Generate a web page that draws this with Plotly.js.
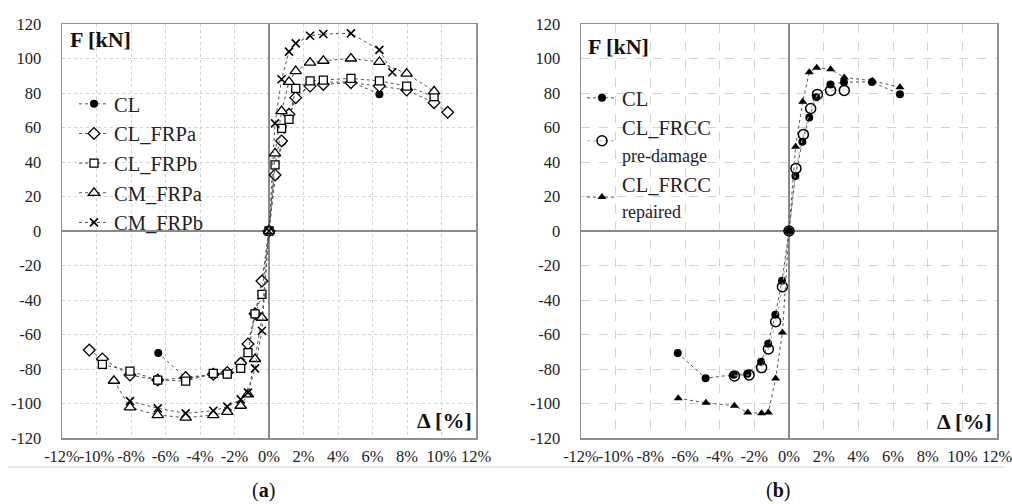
<!DOCTYPE html>
<html>
<head>
<meta charset="utf-8">
<script src="https://cdn.plot.ly/plotly-3.0.1.min.js"></script>
<style>html,body{margin:0;padding:0;background:#fff;}#chart{width:1012px;height:504px;}</style>
</head>
<body>
<div id="chart"></div>
<script>
// ---------- DATA ----------
// Chart (a)
const clX      = [-6.42, -4.81, -3.19, -2.4, -1.61, -1.2, -0.79, -0.4, 0, 0.37, 0.77, 1.17, 1.57, 2.39, 3.17, 4.78, 6.4];
const clF      = [-70.7, -85.4, -83.3, -82.8, -75.8, -65.3, -48.5, -28.8, 0, 31.9, 51.8, 65.8, 77.6, 85, 86.3, 86.4, 79.3];

const frpaX    = [-10.42, -9.66, -8.06, -6.45, -4.83, -3.23, -2.42, -1.64, -1.22, -0.81, -0.41, 0, 0.35, 0.73, 1.16, 1.55, 2.38, 3.15, 4.75, 6.4, 7.98, 9.57, 10.36];
const frpaF    = [-69, -74.2, -83.5, -86.4, -85, -83, -82, -76.7, -65.5, -48, -29, 0, 32.5, 52.2, 67.6, 77.3, 84, 85, 86, 84, 81.7, 74.4, 68.8];

const frpbX    = [-9.66, -8.06, -6.45, -4.83, -3.23, -2.42, -1.64, -1.22, -0.81, -0.41, 0, 0.35, 0.73, 1.16, 1.55, 2.38, 3.15, 4.75, 6.4, 7.98, 9.57];
const frpbF    = [-77.3, -81.2, -86.4, -87, -82.5, -83, -79.6, -70.5, -48, -36.7, 0, 38.3, 59.5, 64.7, 82.7, 87, 87.5, 88.5, 87, 84, 77.9];

const cmaX     = [-8.99, -8.06, -6.45, -4.83, -3.23, -2.42, -1.64, -1.22, -0.81, -0.41, 0, 0.35, 0.73, 1.16, 1.55, 2.38, 3.15, 4.75, 6.4, 7.98, 9.57];
const cmaF     = [-86.8, -102.3, -106.7, -108.2, -106.7, -104.8, -101.3, -94.7, -74.2, -50.3, 0, 45, 69.5, 86.5, 92.7, 97.6, 98.7, 100, 98, 91.2, 81];

const cmbX     = [-8.06, -6.45, -4.83, -3.23, -2.42, -1.64, -1.22, -0.81, -0.41, 0, 0.35, 0.73, 1.16, 1.55, 2.38, 3.15, 4.75, 6.4, 7.15];
const cmbF     = [-98.6, -102.8, -105.7, -104.2, -101.8, -97.6, -93.7, -79.6, -57.8, 0, 62.4, 88, 104, 108.8, 113.2, 114.2, 114.6, 105, 92];

// Chart (b)
const preX     = [-3.15, -2.3, -1.58, -1.19, -0.77, -0.38, 0, 0.4, 0.83, 1.25, 1.64, 2.4, 3.19];
const preF     = [-84, -83.5, -79.2, -68.4, -52.6, -32.3, 0, 36.3, 56, 71, 79.2, 81.5, 81.5];

const repX     = [-6.39, -4.79, -3.15, -2.38, -1.58, -1.19, -0.77, -0.38, 0, 0.38, 0.79, 1.17, 1.6, 2.4, 3.19, 4.81, 6.4];
const repF     = [-97, -99.6, -101.3, -105.2, -105.7, -105.2, -85.5, -58.8, 0, 48.9, 74.9, 92, 94.7, 93.7, 89, 87.1, 83.3];

// Tick labels
const xTickVals = [-12, -10, -8, -6, -4, -2, 0, 2, 4, 6, 8, 10, 12];
const xTickText = ['-12%', '-10%', '-8%', '-6%', '-4%', '-2%', '0%', '2%', '4%', '6%', '8%', '10%', '12%'];
const yTickVals = [-120, -100, -80, -60, -40, -20, 0, 20, 40, 60, 80, 100, 120];
const yTickText = ['-120', '-100', '-80', '-60', '-40', '-20', '0', '20', '40', '60', '80', '100', '120'];

// ---------- STYLE ----------
const FONT = 'Liberation Serif, Times New Roman, serif';
const lineStyle = {color: '#555', width: 1, dash: 'dot'};
const W = 1012, H = 504;
const px = v => v / W;
const py = v => 1 - v / H;

function trace(x, y, name, marker, axis, legend, line) {
  return {
    x: x, y: y, name: name, type: 'scatter', mode: 'lines+markers',
    line: line || lineStyle, marker: marker,
    xaxis: axis === 2 ? 'x2' : 'x', yaxis: axis === 2 ? 'y2' : 'y',
    legend: legend, cliponaxis: false
  };
}

const data = [
  trace(clX, clF, 'CL', {symbol: 'circle', size: 8, color: '#000'}, 1, 'legend'),
  trace(frpaX, frpaF, 'CL_FRPa', {symbol: 'diamond', size: 9, color: '#fff', line: {color: '#000', width: 1.3}}, 1, 'legend'),
  trace(frpbX, frpbF, 'CL_FRPb', {symbol: 'square', size: 8, color: '#fff', line: {color: '#000', width: 1.3}}, 1, 'legend'),
  trace(cmaX, cmaF, 'CM_FRPa', {symbol: 'triangle-up', size: 10, color: '#fff', line: {color: '#000', width: 1.3}}, 1, 'legend'),
  trace(cmbX, cmbF, 'CM_FRPb', {symbol: 'x-thin-open', size: 8, color: '#000', line: {color: '#000', width: 1.6}}, 1, 'legend'),
  trace(clX, clF, 'CL', {symbol: 'circle', size: 8, color: '#000'}, 2, 'legend2'),
  trace(preX, preF, 'CL_FRCC<br><span style="font-size:18px">pre-damage</span>', {symbol: 'circle-open', size: 10, color: '#000', line: {color: '#000', width: 1.5}}, 2, 'legend2', {color: '#aaa', width: 1, dash: 'dot'}),
  trace(repX, repF, 'CL_FRCC<br><span style="font-size:18px">repaired</span>', {symbol: 'triangle-up', size: 8, color: '#000'}, 2, 'legend2')
];

function xax(domain, anchor, griddash) {
  return {
    domain: domain, anchor: anchor, range: [-12, 12], tickmode: 'array',
    tickvals: xTickVals, ticktext: xTickText, tickangle: 0, ticklabeloverflow: 'allow',
    showgrid: true, gridcolor: '#d4d4d4', griddash: griddash,
    zeroline: true, zerolinecolor: '#8a8a8a', zerolinewidth: 1.5,
    showline: true, linecolor: '#8f8f8f', linewidth: 1.5, mirror: true,
    ticks: '', ticklabelstandoff: 3, tickfont: {family: FONT, size: 16.5, color: '#222'},
    fixedrange: true
  };
}
function yax(anchor, griddash) {
  return {
    domain: [1 - 438 / H, 1 - 24 / H], anchor: anchor, range: [-120, 120], tickmode: 'array',
    tickvals: yTickVals, ticktext: yTickText, ticklabeloverflow: 'allow',
    showgrid: true, gridcolor: '#d4d4d4', griddash: griddash,
    zeroline: true, zerolinecolor: '#8a8a8a', zerolinewidth: 1.5,
    showline: true, linecolor: '#8f8f8f', linewidth: 1.5, mirror: true,
    ticks: '', ticklabelstandoff: 16, tickfont: {family: FONT, size: 16.5, color: '#222'},
    fixedrange: true
  };
}

const ann = (text, x, y, xanchor, size) => ({
  text: text, xref: 'paper', yref: 'paper', x: px(x), y: py(y), xanchor: xanchor, yanchor: 'middle',
  showarrow: false, font: {family: FONT, size: size, color: '#111'}
});

const legendStyle = (x, y) => ({
  x: px(x), y: py(y), xanchor: 'left', yanchor: 'top', bgcolor: 'rgba(0,0,0,0)',
  font: {family: FONT, size: 20.5, color: '#222'}, itemwidth: 30, tracegroupgap: 0, valign: 'middle'
});

const layout = {
  width: W, height: H, margin: {l: 0, r: 0, t: 0, b: 0},
  paper_bgcolor: '#fff', plot_bgcolor: '#fff', showlegend: true,
  xaxis: xax([62 / W, 476 / W], 'y', 'dot'),
  yaxis: yax('x', 'dot'),
  xaxis2: xax([581 / W, 997 / W], 'y2', 'dash'),
  yaxis2: yax('x2', 'dash'),
  legend: legendStyle(74, 84),
  legend2: legendStyle(582, 78),
  annotations: [
    ann('<b>F [kN]</b>', 68, 40, 'left', 22),
    ann('<b>Δ [%]</b>', 474, 420, 'right', 22),
    ann('<b>F [kN]</b>', 586, 46, 'left', 22),
    ann('<b>Δ [%]</b>', 994, 421, 'right', 22),
    ann('(<b>a</b>)', 263, 490, 'center', 20),
    ann('(<b>b</b>)', 778, 490, 'center', 20)
  ],
  shapes: [
    {type: 'line', xref: 'paper', yref: 'paper', x0: px(8), x1: px(1004), y0: py(467), y1: py(467), line: {color: '#cfcfcf', width: 1}}
  ]
};

Plotly.newPlot('chart', data, layout, {staticPlot: true, displayModeBar: false});
</script>
</body>
</html>
